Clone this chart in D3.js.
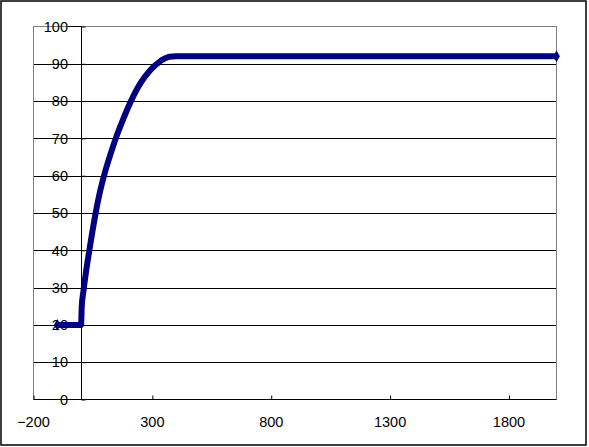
<!DOCTYPE html>
<html><head><meta charset="utf-8">
<script src="https://cdn.jsdelivr.net/npm/d3@7"></script>
<style>
html,body{margin:0;padding:0;background:#fff;}
svg{display:block;}
text{font-family:"Liberation Sans",Arial,sans-serif;font-size:14.5px;fill:#000;}
</style></head>
<body>
<script>
// Data
const xValues = [-100, -50, 0, 3, 10, 20, 35, 60, 80, 100, 120, 147, 175, 210, 250, 290, 310, 326, 340, 351, 362, 372, 400, 600, 1000, 1400, 1800, 2000];
const yValues = [20, 20, 20, 25, 29, 33.8, 40, 49.5, 55.8, 60.8, 65, 70.2, 74.8, 80, 84.8, 88.2, 89.5, 90.3, 91, 91.4, 91.7, 91.9, 92, 92, 92, 92, 92, 92];
const xTicks = [-200, 300, 800, 1300, 1800];
const yTicks = [0, 10, 20, 30, 40, 50, 60, 70, 80, 90, 100];
const xDomain = [-200, 2000];
const yDomain = [0, 100];

const W = 589, H = 447;
const mLeft = 33.5, mRight = 556.5, mTop = 26.5, mBottom = 399.5;

const svg = d3.select("body").append("svg").attr("width", W).attr("height", H);

// outer frame
svg.append("rect").attr("x", 1).attr("y", 1).attr("width", 585).attr("height", 444)
  .attr("fill", "#fff").attr("stroke", "#000").attr("stroke-width", 1.5);

const x = d3.scaleLinear().domain(xDomain).range([mLeft, mRight]);
const y = d3.scaleLinear().domain(yDomain).range([mBottom, mTop]);

// gridlines
svg.append("g").selectAll("line").data(yTicks.filter(v => v > 0 && v < 100)).join("line")
  .attr("x1", mLeft).attr("x2", mRight)
  .attr("y1", d => Math.round(y(d)) + 0.5).attr("y2", d => Math.round(y(d)) + 0.5)
  .attr("stroke", "#000").attr("stroke-width", 1);

// plot border
svg.append("rect").attr("x", mLeft).attr("y", mTop).attr("width", mRight - mLeft).attr("height", mBottom - mTop)
  .attr("fill", "none").attr("stroke", "#808080").attr("stroke-width", 1);

// y axis at x = 0
const x0 = Math.round(x(0)) + 0.5;
const yAxis = d3.axisRight(y).tickValues(yTicks).tickSize(4).tickFormat("");
const gy = svg.append("g").attr("transform", `translate(${x0},0)`).call(yAxis);
gy.select(".domain").remove();
gy.selectAll(".tick line").attr("stroke", "#000");
svg.append("line").attr("x1", x0).attr("x2", x0).attr("y1", mTop).attr("y2", mBottom).attr("stroke", "#000");
svg.append("line").attr("x1", 68).attr("x2", x0).attr("y1", y(100)).attr("y2", y(100)).attr("stroke", "#000");

// x axis at y = 0
const xAxis = d3.axisTop(x).tickValues(xTicks).tickSize(4).tickFormat("");
const gx = svg.append("g").attr("transform", `translate(0,${mBottom})`).call(xAxis);
gx.select(".domain").remove();
gx.selectAll(".tick line").attr("stroke", "#000");
svg.append("line").attr("x1", mLeft).attr("x2", mRight).attr("y1", mBottom).attr("y2", mBottom).attr("stroke", "#000");

// y labels
svg.append("g").selectAll("text").data(yTicks).join("text")
  .attr("x", 68).attr("y", d => y(d)).attr("dy", "0.36em").attr("text-anchor", "end")
  .text(d => d);

// x labels
svg.append("g").selectAll("text").data(xTicks).join("text")
  .attr("x", d => x(d)).attr("y", 427).attr("text-anchor", "middle")
  .text(d => d < 0 ? "\u2212" + Math.abs(d) : d);

// series
const pts = xValues.map((v, i) => [v, yValues[i]]);
const line = d3.line().x(d => x(d[0])).y(d => y(d[1])).curve(d3.curveMonotoneX);
svg.append("path").datum(pts).attr("d", line)
  .attr("fill", "none").attr("stroke", "#000080").attr("stroke-width", 6).attr("stroke-linejoin", "round");
const diamond = d3.symbol().type(d3.symbolDiamond).size(40);
svg.append("g").selectAll("path").data([pts[0], pts[pts.length - 1]]).join("path")
  .attr("transform", d => `translate(${x(d[0])},${y(d[1])})`)
  .attr("d", diamond).attr("fill", "#000080");
</script>
</body></html>
